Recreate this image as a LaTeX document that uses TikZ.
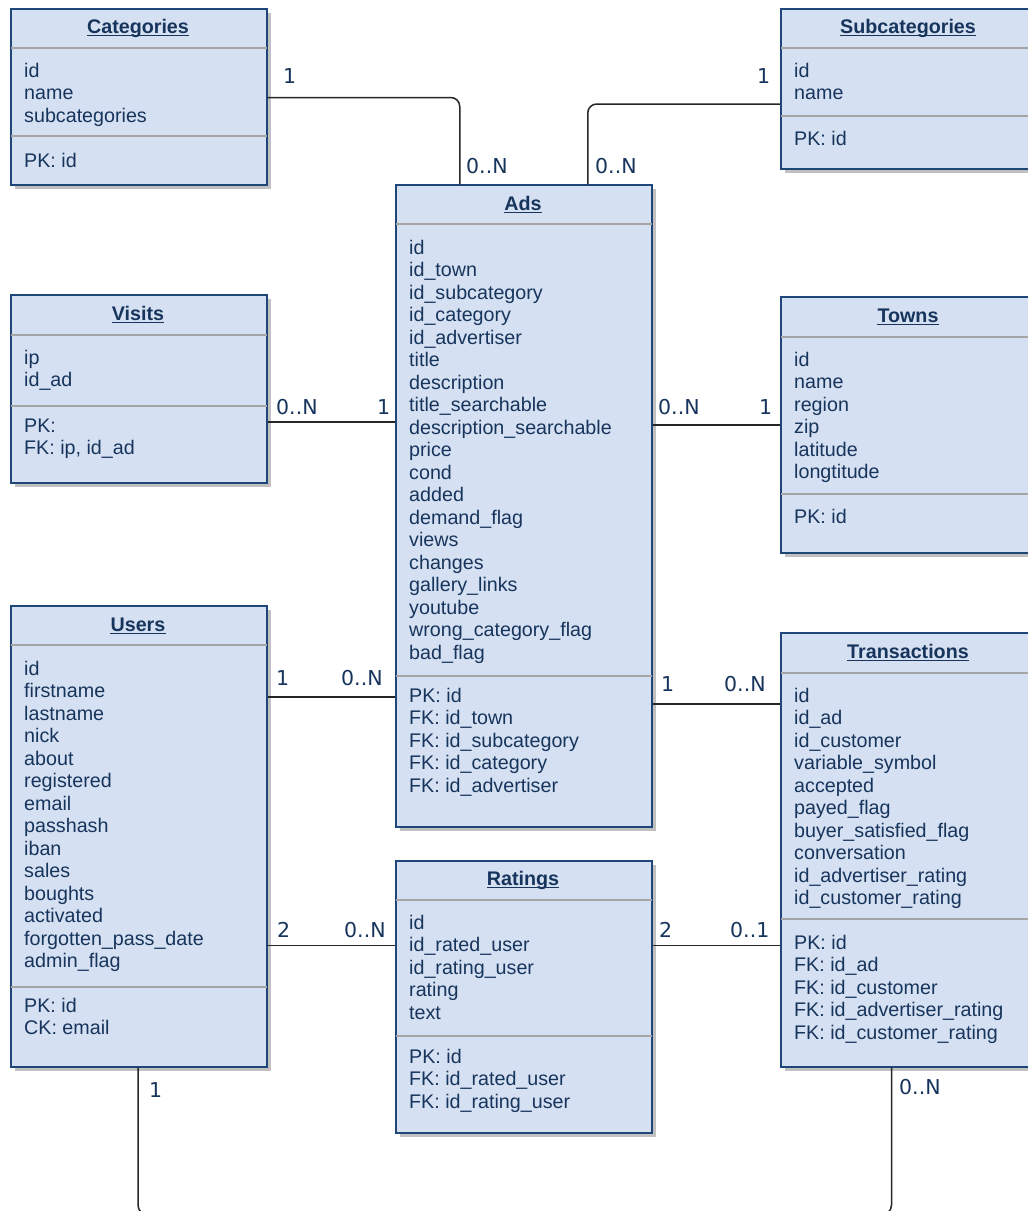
\documentclass[tikz,border=0pt]{standalone}
\usepackage{fontspec}
\setmainfont{Liberation Sans}
\newfontfamily\labfont{DejaVu Sans}
\usetikzlibrary{shadows}
\definecolor{boxfill}{RGB}{213,225,242}
\definecolor{boxline}{RGB}{31,70,120}
\definecolor{ink}{RGB}{23,52,92}
\definecolor{sepc}{RGB}{165,165,165}
\definecolor{shadc}{RGB}{192,192,192}
\tikzset{
  tbl/.style={rectangle, draw=boxline, line width=1.5pt, fill=boxfill, anchor=north west,
    inner sep=0pt, minimum width=256pt,
    general shadow={fill=shadc, shadow xshift=4pt, shadow yshift=-4pt}},
  sepline/.style={draw=sepc, line width=2pt},
  txt/.style={anchor=base west, inner sep=0pt, text=ink, font=\fontsize{19.7}{22.5}\selectfont},
  ttl/.style={anchor=base, inner sep=0pt, text=ink, font=\bfseries\fontsize{19.7}{22.5}\selectfont},
  uline/.style={draw=ink, line width=1.4pt},
  conn/.style={draw=black!85, line width=1.5pt, rounded corners=9pt},
  lab/.style={anchor=base west, inner sep=0pt, text=ink, font=\labfont\fontsize{20.5}{24}\selectfont}
}
\newcommand\rows[4]{\foreach \t [count=\i from 0] in {#4} {\node[txt] (#1\i) at (#2,#3+22.5*\i) {\t};}}
\newcommand\ttlnode[4]{\node[ttl] (#1) at (#2,#3) {#4};
  \draw[uline] ([yshift=-2.6pt]#1.base west) -- ([yshift=-2.6pt]#1.base east);}
\begin{document}
\begin{tikzpicture}[x=1pt,y=-1pt]
\useasboundingbox (0,0) rectangle (1028,1211);
\clip (0,0) rectangle (1028,1211);

% ---------- boxes ----------
\node[tbl, minimum height=176pt] (cat) at (10,8) {};
\node[tbl, minimum height=160pt] (sub) at (780,8) {};
\node[tbl, minimum height=642pt] (ads) at (395,184) {};
\node[tbl, minimum height=188pt] (vis) at (10,294) {};
\node[tbl, minimum height=256pt] (town) at (780,296) {};
\node[tbl, minimum height=461pt] (usr) at (10,605) {};
\node[tbl, minimum height=434pt] (trn) at (780,632) {};
\node[tbl, minimum height=272pt] (rat) at (395,860) {};

% ---------- separators ----------
\foreach \b/\y in {cat/48, cat/136, sub/48, sub/116, ads/224, ads/676, vis/335, vis/406,
                   town/337, town/494, usr/645, usr/987, trn/673, trn/919, rat/900, rat/1036}
  {\draw[sepline] ([xshift=0.75pt]\b.west |- 0,\y) -- ([xshift=-0.75pt]\b.east |- 0,\y);}

% ---------- Categories ----------
\ttlnode{catT}{138}{33}{Categories}
\rows{catA}{24}{77}{id,name,subcategories}
\rows{catK}{24}{167}{PK: id}

% ---------- Subcategories ----------
\ttlnode{subT}{908}{33}{Subcategories}
\rows{subA}{794}{77}{id,name}
\rows{subK}{794}{145}{PK: id}

% ---------- Ads ----------
\ttlnode{adsT}{523}{210}{Ads}
\rows{adsA}{409}{254}{id,id\_town,id\_subcategory,id\_category,id\_advertiser,title,description,title\_searchable,description\_searchable,price,cond,added,demand\_flag,views,changes,gallery\_links,youtube,wrong\_category\_flag,bad\_flag}
\rows{adsK}{409}{702}{PK: id,FK: id\_town,FK: id\_subcategory,FK: id\_category,FK: id\_advertiser}

% ---------- Visits ----------
\ttlnode{visT}{138}{320}{Visits}
\rows{visA}{24}{364}{ip,id\_ad}
\rows{visK}{24}{432}{PK:,{FK: ip, id\_ad}}

% ---------- Towns ----------
\ttlnode{townT}{908}{322}{Towns}
\rows{townA}{794}{366}{id,name,region,zip,latitude,longtitude}
\rows{townK}{794}{523}{PK: id}

% ---------- Users ----------
\ttlnode{usrT}{138}{631}{Users}
\rows{usrA}{24}{675}{id,firstname,lastname,nick,about,registered,email,passhash,iban,sales,boughts,activated,forgotten\_pass\_date,admin\_flag}
\rows{usrK}{24}{1012}{PK: id,CK: email}

% ---------- Transactions ----------
\ttlnode{trnT}{908}{658}{Transactions}
\rows{trnA}{794}{702}{id,id\_ad,id\_customer,variable\_symbol,accepted,payed\_flag,buyer\_satisfied\_flag,conversation,id\_advertiser\_rating,id\_customer\_rating}
\rows{trnK}{794}{949}{PK: id,FK: id\_ad,FK: id\_customer,FK: id\_advertiser\_rating,FK: id\_customer\_rating}

% ---------- Ratings ----------
\ttlnode{ratT}{523}{885}{Ratings}
\rows{ratA}{409}{929}{id,id\_rated\_user,id\_rating\_user,rating,text}
\rows{ratK}{409}{1063}{PK: id,FK: id\_rated\_user,FK: id\_rating\_user}

% ---------- connectors ----------
\draw[conn] (cat.east |- 0,97.5) -| ([xshift=-64pt]ads.north);
\draw[conn] (sub.west |- 0,104) -| ([xshift=64pt]ads.north);
\draw[conn] (vis.east |- 0,422) -- (ads.west |- 0,422);
\draw[conn] (ads.east |- 0,425) -- (town.west |- 0,425);
\draw[conn] (usr.east |- 0,697) -- (ads.west |- 0,697);
\draw[conn] (ads.east |- 0,704) -- (trn.west |- 0,704);
\draw[conn] (usr.east |- 0,945.5) -- (rat.west |- 0,945.5);
\draw[conn] (rat.east |- 0,945.5) -- (trn.west |- 0,945.5);
\coordinate (ubot) at (138,1215);
\coordinate (tbot) at (891.5,1215);
\draw[conn, rounded corners=10pt] (usr.south -| ubot) -- (ubot) -- (tbot) -- (trn.south -| tbot);

% ---------- multiplicities ----------
\node[lab] (m1) at (283,83.5) {1};
\node[lab] (m2) at (466,173.5) {0..N};
\node[lab] (m3) at (757,83.5) {1};
\node[lab] (m4) at (595,173.5) {0..N};
\node[lab] (m5) at (276,414.5) {0..N};
\node[lab] (m6) at (377,414.5) {1};
\node[lab] (m7) at (658,414.5) {0..N};
\node[lab] (m8) at (759,414.5) {1};
\node[lab] (m9) at (276,685.5) {1};
\node[lab] (m10) at (341,685.5) {0..N};
\node[lab] (m11) at (661,691.5) {1};
\node[lab] (m12) at (724,691.5) {0..N};
\node[lab] (m13) at (277,937.5) {2};
\node[lab] (m14) at (344,937.5) {0..N};
\node[lab] (m15) at (659,937.5) {2};
\node[lab] (m16) at (730,937.5) {0..1};
\node[lab] (m17) at (149,1097.5) {1};
\node[lab] (m18) at (899,1094) {0..N};
\end{tikzpicture}
\end{document}
